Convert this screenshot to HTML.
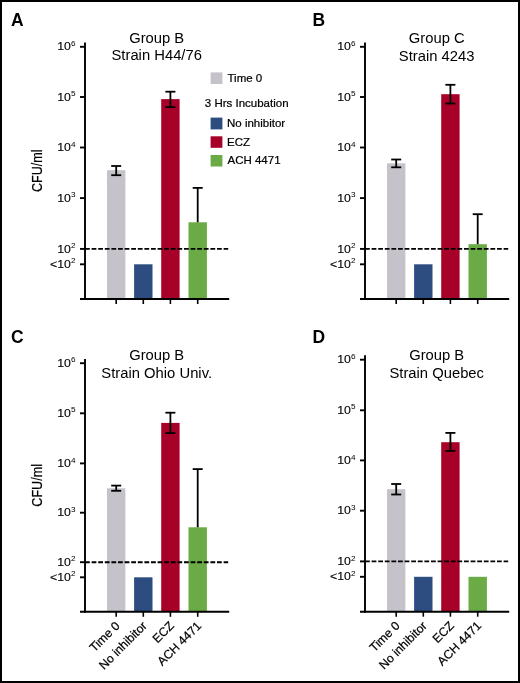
<!DOCTYPE html>
<html><head><meta charset="utf-8"><style>
html,body{margin:0;padding:0;background:#fff;}
svg{display:block;will-change:transform;}
text{font-family:"Liberation Sans", sans-serif;}
.l,.x,.c{stroke:#000;stroke-width:0.22px;}
.t{stroke:#000;stroke-width:0.12px;}
</style></head><body>
<svg width="520" height="683" viewBox="0 0 520 683">
<rect x="0" y="0" width="520" height="683" fill="#fff"/>
<rect x="107.00" y="170.20" width="18.40" height="128.80" fill="#c5c3c9"/>
<rect x="134.10" y="264.30" width="18.40" height="34.70" fill="#2d4d81"/>
<rect x="161.20" y="99.10" width="18.40" height="199.90" fill="#a70029"/>
<rect x="188.50" y="222.30" width="18.40" height="76.70" fill="#6aab45"/>
<line x1="85.00" y1="248.90" x2="228.20" y2="248.90" stroke="#000" stroke-width="1.9" stroke-linecap="butt" stroke-dasharray="4.8 1.8"/>
<line x1="116.20" y1="166.00" x2="116.20" y2="175.20" stroke="#000" stroke-width="1.8" stroke-linecap="butt"/>
<line x1="111.20" y1="166.00" x2="121.20" y2="166.00" stroke="#000" stroke-width="1.8" stroke-linecap="butt"/>
<line x1="111.20" y1="175.20" x2="121.20" y2="175.20" stroke="#000" stroke-width="1.8" stroke-linecap="butt"/>
<line x1="170.40" y1="91.70" x2="170.40" y2="107.10" stroke="#000" stroke-width="1.8" stroke-linecap="butt"/>
<line x1="165.40" y1="91.70" x2="175.40" y2="91.70" stroke="#000" stroke-width="1.8" stroke-linecap="butt"/>
<line x1="165.40" y1="107.10" x2="175.40" y2="107.10" stroke="#000" stroke-width="1.8" stroke-linecap="butt"/>
<line x1="197.70" y1="187.90" x2="197.70" y2="222.30" stroke="#000" stroke-width="1.8" stroke-linecap="butt"/>
<line x1="192.70" y1="187.90" x2="202.70" y2="187.90" stroke="#000" stroke-width="1.8" stroke-linecap="butt"/>
<line x1="85.00" y1="42.40" x2="85.00" y2="300.00" stroke="#000" stroke-width="1.9" stroke-linecap="butt"/>
<line x1="80.00" y1="46.80" x2="85.00" y2="46.80" stroke="#000" stroke-width="1.9" stroke-linecap="butt"/>
<line x1="80.00" y1="97.00" x2="85.00" y2="97.00" stroke="#000" stroke-width="1.9" stroke-linecap="butt"/>
<line x1="80.00" y1="147.50" x2="85.00" y2="147.50" stroke="#000" stroke-width="1.9" stroke-linecap="butt"/>
<line x1="80.00" y1="198.10" x2="85.00" y2="198.10" stroke="#000" stroke-width="1.9" stroke-linecap="butt"/>
<line x1="80.00" y1="248.90" x2="85.00" y2="248.90" stroke="#000" stroke-width="1.9" stroke-linecap="butt"/>
<line x1="80.00" y1="264.30" x2="85.00" y2="264.30" stroke="#000" stroke-width="1.9" stroke-linecap="butt"/>
<line x1="80.00" y1="299.00" x2="229.20" y2="299.00" stroke="#000" stroke-width="1.9" stroke-linecap="butt"/>
<line x1="116.20" y1="299.00" x2="116.20" y2="304.00" stroke="#000" stroke-width="1.6" stroke-linecap="butt"/>
<line x1="143.30" y1="299.00" x2="143.30" y2="304.00" stroke="#000" stroke-width="1.6" stroke-linecap="butt"/>
<line x1="170.40" y1="299.00" x2="170.40" y2="304.00" stroke="#000" stroke-width="1.6" stroke-linecap="butt"/>
<line x1="197.70" y1="299.00" x2="197.70" y2="304.00" stroke="#000" stroke-width="1.6" stroke-linecap="butt"/>
<text class="t" transform="translate(70.88,50.40) scale(1.1,1.0)" font-size="11.2" text-anchor="end" fill="#000">10</text>
<text transform="translate(71.00,45.90) scale(1.08,1.0)" font-size="7.6" fill="#000">6</text>
<text class="t" transform="translate(70.88,100.60) scale(1.1,1.0)" font-size="11.2" text-anchor="end" fill="#000">10</text>
<text transform="translate(71.00,96.10) scale(1.08,1.0)" font-size="7.6" fill="#000">5</text>
<text class="t" transform="translate(70.88,151.10) scale(1.1,1.0)" font-size="11.2" text-anchor="end" fill="#000">10</text>
<text transform="translate(71.00,146.60) scale(1.08,1.0)" font-size="7.6" fill="#000">4</text>
<text class="t" transform="translate(70.88,201.70) scale(1.1,1.0)" font-size="11.2" text-anchor="end" fill="#000">10</text>
<text transform="translate(71.00,197.20) scale(1.08,1.0)" font-size="7.6" fill="#000">3</text>
<text class="t" transform="translate(70.88,252.50) scale(1.1,1.0)" font-size="11.2" text-anchor="end" fill="#000">10</text>
<text transform="translate(71.00,248.00) scale(1.08,1.0)" font-size="7.6" fill="#000">2</text>
<text class="t" transform="translate(70.88,267.90) scale(1.1,1.0)" font-size="11.2" text-anchor="end" fill="#000">&lt;10</text>
<text transform="translate(71.00,263.40) scale(1.08,1.0)" font-size="7.6" fill="#000">2</text>
<text transform="translate(11.00,25.80) scale(0.93,1.0)" font-size="18.8" font-weight="bold" fill="#000">A</text>
<text transform="translate(156.70,42.60) scale(1.035,1.0)" font-size="14.3" text-anchor="middle" fill="#000">Group B</text>
<text transform="translate(156.70,60.40) scale(1.035,1.0)" font-size="14.3" text-anchor="middle" fill="#000">Strain H44/76</text>
<text class="c" transform="translate(41.70,170.70) rotate(-90) scale(0.84,1.0)" font-size="15.0" text-anchor="middle" fill="#000">CFU/ml</text>
<rect x="387.00" y="163.30" width="18.40" height="135.70" fill="#c5c3c9"/>
<rect x="414.10" y="264.30" width="18.40" height="34.70" fill="#2d4d81"/>
<rect x="441.20" y="94.20" width="18.40" height="204.80" fill="#a70029"/>
<rect x="468.50" y="244.20" width="18.40" height="54.80" fill="#6aab45"/>
<line x1="365.00" y1="248.90" x2="508.20" y2="248.90" stroke="#000" stroke-width="1.9" stroke-linecap="butt" stroke-dasharray="4.8 1.8"/>
<line x1="396.20" y1="159.50" x2="396.20" y2="167.30" stroke="#000" stroke-width="1.8" stroke-linecap="butt"/>
<line x1="391.20" y1="159.50" x2="401.20" y2="159.50" stroke="#000" stroke-width="1.8" stroke-linecap="butt"/>
<line x1="391.20" y1="167.30" x2="401.20" y2="167.30" stroke="#000" stroke-width="1.8" stroke-linecap="butt"/>
<line x1="450.40" y1="84.80" x2="450.40" y2="103.50" stroke="#000" stroke-width="1.8" stroke-linecap="butt"/>
<line x1="445.40" y1="84.80" x2="455.40" y2="84.80" stroke="#000" stroke-width="1.8" stroke-linecap="butt"/>
<line x1="445.40" y1="103.50" x2="455.40" y2="103.50" stroke="#000" stroke-width="1.8" stroke-linecap="butt"/>
<line x1="477.70" y1="214.20" x2="477.70" y2="244.20" stroke="#000" stroke-width="1.8" stroke-linecap="butt"/>
<line x1="472.70" y1="214.20" x2="482.70" y2="214.20" stroke="#000" stroke-width="1.8" stroke-linecap="butt"/>
<line x1="365.00" y1="42.40" x2="365.00" y2="300.00" stroke="#000" stroke-width="1.9" stroke-linecap="butt"/>
<line x1="360.00" y1="46.80" x2="365.00" y2="46.80" stroke="#000" stroke-width="1.9" stroke-linecap="butt"/>
<line x1="360.00" y1="97.00" x2="365.00" y2="97.00" stroke="#000" stroke-width="1.9" stroke-linecap="butt"/>
<line x1="360.00" y1="147.50" x2="365.00" y2="147.50" stroke="#000" stroke-width="1.9" stroke-linecap="butt"/>
<line x1="360.00" y1="198.10" x2="365.00" y2="198.10" stroke="#000" stroke-width="1.9" stroke-linecap="butt"/>
<line x1="360.00" y1="248.90" x2="365.00" y2="248.90" stroke="#000" stroke-width="1.9" stroke-linecap="butt"/>
<line x1="360.00" y1="264.30" x2="365.00" y2="264.30" stroke="#000" stroke-width="1.9" stroke-linecap="butt"/>
<line x1="360.00" y1="299.00" x2="509.20" y2="299.00" stroke="#000" stroke-width="1.9" stroke-linecap="butt"/>
<line x1="396.20" y1="299.00" x2="396.20" y2="304.00" stroke="#000" stroke-width="1.6" stroke-linecap="butt"/>
<line x1="423.30" y1="299.00" x2="423.30" y2="304.00" stroke="#000" stroke-width="1.6" stroke-linecap="butt"/>
<line x1="450.40" y1="299.00" x2="450.40" y2="304.00" stroke="#000" stroke-width="1.6" stroke-linecap="butt"/>
<line x1="477.70" y1="299.00" x2="477.70" y2="304.00" stroke="#000" stroke-width="1.6" stroke-linecap="butt"/>
<text class="t" transform="translate(350.88,50.40) scale(1.1,1.0)" font-size="11.2" text-anchor="end" fill="#000">10</text>
<text transform="translate(351.00,45.90) scale(1.08,1.0)" font-size="7.6" fill="#000">6</text>
<text class="t" transform="translate(350.88,100.60) scale(1.1,1.0)" font-size="11.2" text-anchor="end" fill="#000">10</text>
<text transform="translate(351.00,96.10) scale(1.08,1.0)" font-size="7.6" fill="#000">5</text>
<text class="t" transform="translate(350.88,151.10) scale(1.1,1.0)" font-size="11.2" text-anchor="end" fill="#000">10</text>
<text transform="translate(351.00,146.60) scale(1.08,1.0)" font-size="7.6" fill="#000">4</text>
<text class="t" transform="translate(350.88,201.70) scale(1.1,1.0)" font-size="11.2" text-anchor="end" fill="#000">10</text>
<text transform="translate(351.00,197.20) scale(1.08,1.0)" font-size="7.6" fill="#000">3</text>
<text class="t" transform="translate(350.88,252.50) scale(1.1,1.0)" font-size="11.2" text-anchor="end" fill="#000">10</text>
<text transform="translate(351.00,248.00) scale(1.08,1.0)" font-size="7.6" fill="#000">2</text>
<text class="t" transform="translate(350.88,267.90) scale(1.1,1.0)" font-size="11.2" text-anchor="end" fill="#000">&lt;10</text>
<text transform="translate(351.00,263.40) scale(1.08,1.0)" font-size="7.6" fill="#000">2</text>
<text transform="translate(312.60,25.80) scale(0.93,1.0)" font-size="18.8" font-weight="bold" fill="#000">B</text>
<text transform="translate(436.70,42.70) scale(1.035,1.0)" font-size="14.3" text-anchor="middle" fill="#000">Group C</text>
<text transform="translate(436.70,60.60) scale(1.035,1.0)" font-size="14.3" text-anchor="middle" fill="#000">Strain 4243</text>
<rect x="107.00" y="488.30" width="18.40" height="123.50" fill="#c5c3c9"/>
<rect x="134.10" y="577.30" width="18.40" height="34.50" fill="#2d4d81"/>
<rect x="161.20" y="422.90" width="18.40" height="188.90" fill="#a70029"/>
<rect x="188.50" y="527.30" width="18.40" height="84.50" fill="#6aab45"/>
<line x1="85.00" y1="562.20" x2="228.20" y2="562.20" stroke="#000" stroke-width="1.9" stroke-linecap="butt" stroke-dasharray="4.8 1.8"/>
<line x1="116.20" y1="485.60" x2="116.20" y2="490.80" stroke="#000" stroke-width="1.8" stroke-linecap="butt"/>
<line x1="111.20" y1="485.60" x2="121.20" y2="485.60" stroke="#000" stroke-width="1.8" stroke-linecap="butt"/>
<line x1="111.20" y1="490.80" x2="121.20" y2="490.80" stroke="#000" stroke-width="1.8" stroke-linecap="butt"/>
<line x1="170.40" y1="412.70" x2="170.40" y2="433.10" stroke="#000" stroke-width="1.8" stroke-linecap="butt"/>
<line x1="165.40" y1="412.70" x2="175.40" y2="412.70" stroke="#000" stroke-width="1.8" stroke-linecap="butt"/>
<line x1="165.40" y1="433.10" x2="175.40" y2="433.10" stroke="#000" stroke-width="1.8" stroke-linecap="butt"/>
<line x1="197.70" y1="469.10" x2="197.70" y2="527.30" stroke="#000" stroke-width="1.8" stroke-linecap="butt"/>
<line x1="192.70" y1="469.10" x2="202.70" y2="469.10" stroke="#000" stroke-width="1.8" stroke-linecap="butt"/>
<line x1="85.00" y1="358.90" x2="85.00" y2="612.80" stroke="#000" stroke-width="1.9" stroke-linecap="butt"/>
<line x1="80.00" y1="363.20" x2="85.00" y2="363.20" stroke="#000" stroke-width="1.9" stroke-linecap="butt"/>
<line x1="80.00" y1="413.30" x2="85.00" y2="413.30" stroke="#000" stroke-width="1.9" stroke-linecap="butt"/>
<line x1="80.00" y1="463.40" x2="85.00" y2="463.40" stroke="#000" stroke-width="1.9" stroke-linecap="butt"/>
<line x1="80.00" y1="512.70" x2="85.00" y2="512.70" stroke="#000" stroke-width="1.9" stroke-linecap="butt"/>
<line x1="80.00" y1="562.20" x2="85.00" y2="562.20" stroke="#000" stroke-width="1.9" stroke-linecap="butt"/>
<line x1="80.00" y1="577.30" x2="85.00" y2="577.30" stroke="#000" stroke-width="1.9" stroke-linecap="butt"/>
<line x1="80.00" y1="611.80" x2="229.20" y2="611.80" stroke="#000" stroke-width="1.9" stroke-linecap="butt"/>
<line x1="116.20" y1="611.80" x2="116.20" y2="616.80" stroke="#000" stroke-width="1.6" stroke-linecap="butt"/>
<line x1="143.30" y1="611.80" x2="143.30" y2="616.80" stroke="#000" stroke-width="1.6" stroke-linecap="butt"/>
<line x1="170.40" y1="611.80" x2="170.40" y2="616.80" stroke="#000" stroke-width="1.6" stroke-linecap="butt"/>
<line x1="197.70" y1="611.80" x2="197.70" y2="616.80" stroke="#000" stroke-width="1.6" stroke-linecap="butt"/>
<text class="t" transform="translate(70.88,366.80) scale(1.1,1.0)" font-size="11.2" text-anchor="end" fill="#000">10</text>
<text transform="translate(71.00,362.30) scale(1.08,1.0)" font-size="7.6" fill="#000">6</text>
<text class="t" transform="translate(70.88,416.90) scale(1.1,1.0)" font-size="11.2" text-anchor="end" fill="#000">10</text>
<text transform="translate(71.00,412.40) scale(1.08,1.0)" font-size="7.6" fill="#000">5</text>
<text class="t" transform="translate(70.88,467.00) scale(1.1,1.0)" font-size="11.2" text-anchor="end" fill="#000">10</text>
<text transform="translate(71.00,462.50) scale(1.08,1.0)" font-size="7.6" fill="#000">4</text>
<text class="t" transform="translate(70.88,516.30) scale(1.1,1.0)" font-size="11.2" text-anchor="end" fill="#000">10</text>
<text transform="translate(71.00,511.80) scale(1.08,1.0)" font-size="7.6" fill="#000">3</text>
<text class="t" transform="translate(70.88,565.80) scale(1.1,1.0)" font-size="11.2" text-anchor="end" fill="#000">10</text>
<text transform="translate(71.00,561.30) scale(1.08,1.0)" font-size="7.6" fill="#000">2</text>
<text class="t" transform="translate(70.88,580.90) scale(1.1,1.0)" font-size="11.2" text-anchor="end" fill="#000">&lt;10</text>
<text transform="translate(71.00,576.40) scale(1.08,1.0)" font-size="7.6" fill="#000">2</text>
<text transform="translate(11.00,342.50) scale(0.93,1.0)" font-size="18.8" font-weight="bold" fill="#000">C</text>
<text transform="translate(156.70,359.50) scale(1.035,1.0)" font-size="14.3" text-anchor="middle" fill="#000">Group B</text>
<text transform="translate(156.70,377.50) scale(1.035,1.0)" font-size="14.3" text-anchor="middle" fill="#000">Strain Ohio Univ.</text>
<text class="c" transform="translate(41.70,485.35) rotate(-90) scale(0.84,1.0)" font-size="15.0" text-anchor="middle" fill="#000">CFU/ml</text>
<text class="x" transform="translate(120.50,626.60) rotate(-45)" font-size="12.2" text-anchor="end" fill="#000">Time 0</text>
<text class="x" transform="translate(147.60,626.60) rotate(-45)" font-size="12.2" text-anchor="end" fill="#000">No inhibitor</text>
<text class="x" transform="translate(174.70,626.60) rotate(-45)" font-size="12.2" text-anchor="end" fill="#000">ECZ</text>
<text class="x" transform="translate(202.00,626.60) rotate(-45)" font-size="12.2" text-anchor="end" fill="#000">ACH 4471</text>
<rect x="387.00" y="489.20" width="18.40" height="122.50" fill="#c5c3c9"/>
<rect x="414.10" y="576.80" width="18.40" height="34.90" fill="#2d4d81"/>
<rect x="441.20" y="442.20" width="18.40" height="169.50" fill="#a70029"/>
<rect x="468.50" y="576.80" width="18.40" height="34.90" fill="#6aab45"/>
<line x1="365.00" y1="561.40" x2="508.20" y2="561.40" stroke="#000" stroke-width="1.9" stroke-linecap="butt" stroke-dasharray="4.8 1.8"/>
<line x1="396.20" y1="484.00" x2="396.20" y2="494.50" stroke="#000" stroke-width="1.8" stroke-linecap="butt"/>
<line x1="391.20" y1="484.00" x2="401.20" y2="484.00" stroke="#000" stroke-width="1.8" stroke-linecap="butt"/>
<line x1="391.20" y1="494.50" x2="401.20" y2="494.50" stroke="#000" stroke-width="1.8" stroke-linecap="butt"/>
<line x1="450.40" y1="432.90" x2="450.40" y2="450.90" stroke="#000" stroke-width="1.8" stroke-linecap="butt"/>
<line x1="445.40" y1="432.90" x2="455.40" y2="432.90" stroke="#000" stroke-width="1.8" stroke-linecap="butt"/>
<line x1="445.40" y1="450.90" x2="455.40" y2="450.90" stroke="#000" stroke-width="1.8" stroke-linecap="butt"/>
<line x1="365.00" y1="355.30" x2="365.00" y2="612.70" stroke="#000" stroke-width="1.9" stroke-linecap="butt"/>
<line x1="360.00" y1="359.70" x2="365.00" y2="359.70" stroke="#000" stroke-width="1.9" stroke-linecap="butt"/>
<line x1="360.00" y1="410.30" x2="365.00" y2="410.30" stroke="#000" stroke-width="1.9" stroke-linecap="butt"/>
<line x1="360.00" y1="460.40" x2="365.00" y2="460.40" stroke="#000" stroke-width="1.9" stroke-linecap="butt"/>
<line x1="360.00" y1="510.70" x2="365.00" y2="510.70" stroke="#000" stroke-width="1.9" stroke-linecap="butt"/>
<line x1="360.00" y1="561.40" x2="365.00" y2="561.40" stroke="#000" stroke-width="1.9" stroke-linecap="butt"/>
<line x1="360.00" y1="576.80" x2="365.00" y2="576.80" stroke="#000" stroke-width="1.9" stroke-linecap="butt"/>
<line x1="360.00" y1="611.70" x2="509.20" y2="611.70" stroke="#000" stroke-width="1.9" stroke-linecap="butt"/>
<line x1="396.20" y1="611.70" x2="396.20" y2="616.70" stroke="#000" stroke-width="1.6" stroke-linecap="butt"/>
<line x1="423.30" y1="611.70" x2="423.30" y2="616.70" stroke="#000" stroke-width="1.6" stroke-linecap="butt"/>
<line x1="450.40" y1="611.70" x2="450.40" y2="616.70" stroke="#000" stroke-width="1.6" stroke-linecap="butt"/>
<line x1="477.70" y1="611.70" x2="477.70" y2="616.70" stroke="#000" stroke-width="1.6" stroke-linecap="butt"/>
<text class="t" transform="translate(350.88,363.30) scale(1.1,1.0)" font-size="11.2" text-anchor="end" fill="#000">10</text>
<text transform="translate(351.00,358.80) scale(1.08,1.0)" font-size="7.6" fill="#000">6</text>
<text class="t" transform="translate(350.88,413.90) scale(1.1,1.0)" font-size="11.2" text-anchor="end" fill="#000">10</text>
<text transform="translate(351.00,409.40) scale(1.08,1.0)" font-size="7.6" fill="#000">5</text>
<text class="t" transform="translate(350.88,464.00) scale(1.1,1.0)" font-size="11.2" text-anchor="end" fill="#000">10</text>
<text transform="translate(351.00,459.50) scale(1.08,1.0)" font-size="7.6" fill="#000">4</text>
<text class="t" transform="translate(350.88,514.30) scale(1.1,1.0)" font-size="11.2" text-anchor="end" fill="#000">10</text>
<text transform="translate(351.00,509.80) scale(1.08,1.0)" font-size="7.6" fill="#000">3</text>
<text class="t" transform="translate(350.88,565.00) scale(1.1,1.0)" font-size="11.2" text-anchor="end" fill="#000">10</text>
<text transform="translate(351.00,560.50) scale(1.08,1.0)" font-size="7.6" fill="#000">2</text>
<text class="t" transform="translate(350.88,580.40) scale(1.1,1.0)" font-size="11.2" text-anchor="end" fill="#000">&lt;10</text>
<text transform="translate(351.00,575.90) scale(1.08,1.0)" font-size="7.6" fill="#000">2</text>
<text transform="translate(312.60,342.60) scale(0.93,1.0)" font-size="18.8" font-weight="bold" fill="#000">D</text>
<text transform="translate(436.70,359.60) scale(1.035,1.0)" font-size="14.3" text-anchor="middle" fill="#000">Group B</text>
<text transform="translate(436.70,377.70) scale(1.035,1.0)" font-size="14.3" text-anchor="middle" fill="#000">Strain Quebec</text>
<text class="x" transform="translate(400.50,626.50) rotate(-45)" font-size="12.2" text-anchor="end" fill="#000">Time 0</text>
<text class="x" transform="translate(427.60,626.50) rotate(-45)" font-size="12.2" text-anchor="end" fill="#000">No inhibitor</text>
<text class="x" transform="translate(454.70,626.50) rotate(-45)" font-size="12.2" text-anchor="end" fill="#000">ECZ</text>
<text class="x" transform="translate(482.00,626.50) rotate(-45)" font-size="12.2" text-anchor="end" fill="#000">ACH 4471</text>
<rect x="210.60" y="72.40" width="11.80" height="11.60" fill="#c5c3c9"/>
<text class="l" transform="translate(227.50,82.20)" font-size="11.5" fill="#000">Time 0</text>
<text class="l" transform="translate(204.80,106.90)" font-size="11.5" fill="#000">3 Hrs Incubation</text>
<rect x="210.60" y="117.60" width="11.80" height="11.80" fill="#2d4d81"/>
<text class="l" transform="translate(227.00,127.30)" font-size="11.5" fill="#000">No inhibitor</text>
<rect x="210.60" y="136.30" width="11.80" height="11.50" fill="#a70029"/>
<text class="l" transform="translate(227.00,145.50)" font-size="11.5" fill="#000">ECZ</text>
<rect x="210.60" y="155.00" width="11.80" height="11.50" fill="#6aab45"/>
<text class="l" transform="translate(227.50,164.20)" font-size="11.5" fill="#000">ACH 4471</text>
<rect x="1" y="1" width="518" height="681" fill="none" stroke="#000" stroke-width="2"/>
</svg>
</body></html>
